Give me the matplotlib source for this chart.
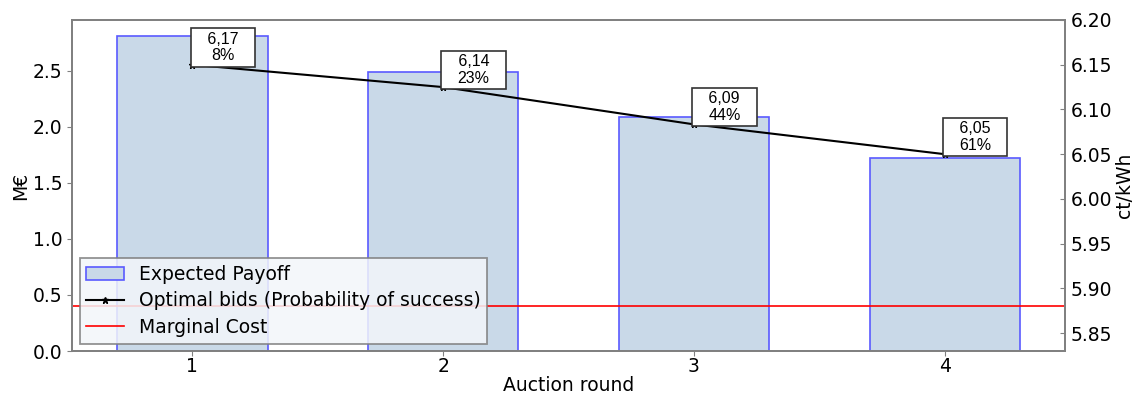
import matplotlib.pyplot as plt

rounds = [1, 2, 3, 4]
payoff = [2.81, 2.49, 2.09, 1.72]          # M€
bids = [6.17, 6.14, 6.09, 6.05]            # ct/kWh
success = [8, 23, 44, 61]                  # %
marginal_cost = 0.40                       # M€

plt.rcParams['font.size'] = 13.5

fig, ax = plt.subplots(figsize=(11.38, 3.96), dpi=100)
fig.subplots_adjust(left=0.0633, right=0.936, bottom=0.1136, top=0.9495)

bars = ax.bar(rounds, payoff, width=0.6, color='#c9d9e8',
              edgecolor='#5a5aff', linewidth=1.2, label='Expected Payoff')
mc = ax.axhline(marginal_cost, color='red', linewidth=1.2, label='Marginal Cost')
ax.set_xticks(rounds)
ax.tick_params(axis='x', pad=1)
ax.set_xlabel('Auction round', labelpad=0)
ax.set_ylabel('M€', labelpad=2)

# right-hand price axis
ax2 = ax.twinx()
ax2.set_ylim(5.83, 6.20)
ax2.set_yticks([5.85, 5.90, 5.95, 6.00, 6.05, 6.10, 6.15, 6.20])
ax2.set_ylabel('ct/kWh', labelpad=2)
ax2.tick_params(axis='y', direction='in', pad=4)

# bid curve on its own scale
ax3 = ax.twinx()
ax3.set_ylim(5.786, 6.23)
ax3.axis('off')
line, = ax3.plot(rounds, bids, color='black', linewidth=1.5, marker='*',
                 markersize=5, label='Optimal bids (Probability of success)')
for x, b, s in zip(rounds, bids, success):
    txt = '   ' + f'{b:.2f}'.replace('.', ',') + '   \n' + f'{s}%'
    ax3.annotate(txt, xy=(x, b), xytext=(1, 1), textcoords='offset points',
                 ha='left', va='bottom', multialignment='center',
                 family='Liberation Sans', fontsize=11.5, linespacing=1.15,
                 bbox=dict(boxstyle='square,pad=0.2', facecolor='white',
                           edgecolor='#333333', linewidth=1.2))

for a in (ax, ax2):
    for sp in a.spines.values():
        sp.set_color('#808080')
        sp.set_linewidth(1.3)
    a.tick_params(color='#808080')

leg = ax3.legend([bars, line, mc],
                 ['Expected Payoff', 'Optimal bids (Probability of success)', 'Marginal Cost'],
                 loc='lower left', facecolor='#f3f6fa', framealpha=0.85,
                 edgecolor='#808080', fancybox=False, borderpad=0.35,
                 labelspacing=0.4, borderaxespad=0.4)
leg.get_frame().set_linewidth(1.3)

fig.savefig('out.png', dpi=100)
